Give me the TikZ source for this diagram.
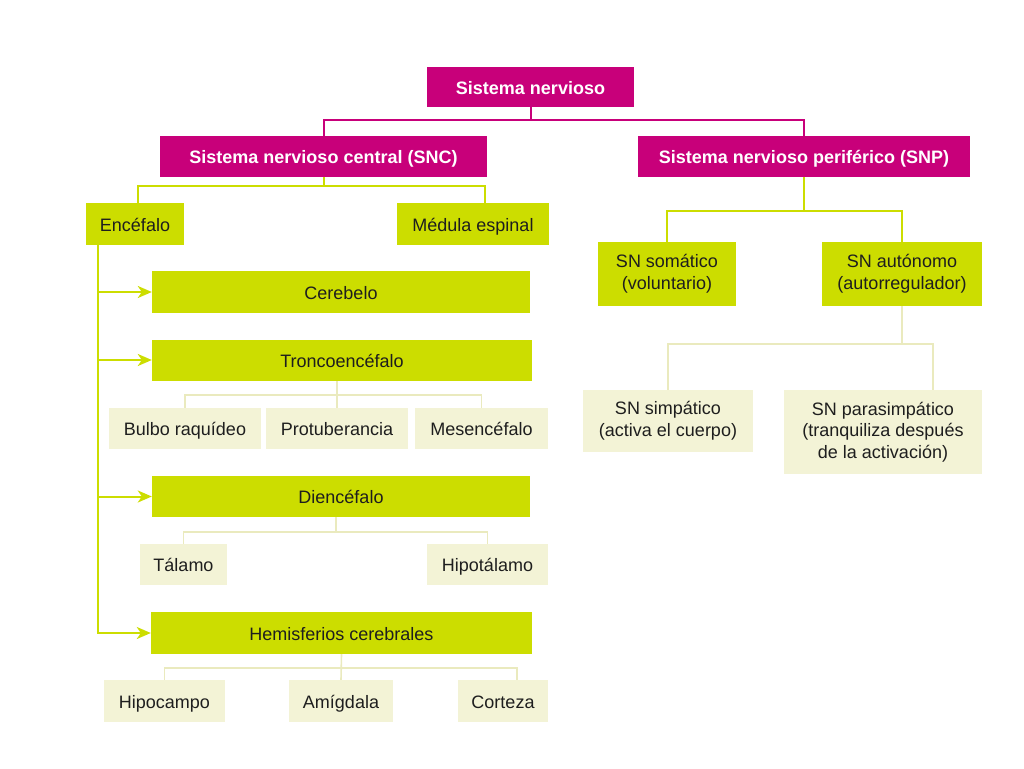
\documentclass[tikz,border=0pt]{standalone}
\usepackage{fontspec}
\setmainfont{Liberation Sans}
\usetikzlibrary{arrows.meta}

\definecolor{magenta}{RGB}{200,0,122}
\definecolor{lime}{RGB}{204,221,0}
\definecolor{pale}{RGB}{243,243,214}
\definecolor{paleline}{RGB}{234,234,190}
\definecolor{ink}{RGB}{30,30,30}

\tikzset{
  oneline/.style={text height=16pt, text depth=2pt},
  magbox/.style={fill=magenta, text=white, font=\fontsize{18}{21}\selectfont\bfseries, inner sep=0pt, oneline},
  limebox/.style={fill=lime, text=ink, font=\fontsize{18}{21.7}\selectfont, inner sep=0pt, align=center},
  palebox/.style={fill=pale, text=ink, font=\fontsize{18}{21.7}\selectfont, inner sep=0pt, align=center},
  magline/.style={draw=magenta, line width=2pt},
  limeline/.style={draw=lime, line width=2pt},
  pline/.style={draw=paleline, line width=1.6pt},
  limearrow/.style={limeline, -{Stealth[length=14pt, width=12pt, inset=4pt]}}
}

\begin{document}
\begin{tikzpicture}[x=1pt, y=-1pt]
        \useasboundingbox (0,0) rectangle (1024,768);
        % top level
        \node[magbox, minimum width=207, minimum height=40] (sn) at (530.5,87) {Sistema nervioso};
        \node[magbox, minimum width=327, minimum height=41] (snc) at (323.5,156.5) {Sistema nervioso central (SNC)};
        \node[magbox, minimum width=332, minimum height=41] (snp) at (804,156.5) {Sistema nervioso periférico (SNP)};
        \draw[magline] (sn.south) -- ++(0,13) -| (snc.north);
        \draw[magline] (sn.south) -- ++(0,13) -| (snp.north);
        % central
        \node[limebox, oneline, minimum width=98, minimum height=42] (enc) at (135,224) {Encéfalo};
        \node[limebox, oneline, minimum width=152, minimum height=42] (med) at (473,224) {Médula espinal};
        \draw[limeline] (snc.south) -- ++(0,9) -| ([xshift=3]enc.north);
        \draw[limeline] (snc.south) -- ++(0,9) -| ([xshift=12]med.north);
        \node[limebox, oneline, minimum width=378, minimum height=42] (cereb) at (341,292) {Cerebelo};
        \node[limebox, oneline, minimum width=380, minimum height=41] (tronco) at (342,360) {Troncoencéfalo};
        \node[limebox, oneline, minimum width=378, minimum height=41] (dien) at (341,496.5) {Diencéfalo};
        \node[limebox, oneline, minimum width=381, minimum height=42] (hemis) at (341.5,633) {Hemisferios cerebrales};
        \draw[limearrow] ([xshift=12]enc.south west) |- (cereb.west);
        \draw[limearrow] ([xshift=12]enc.south west) |- (tronco.west);
        \draw[limearrow] ([xshift=12]enc.south west) |- (dien.west);
        \draw[limearrow] ([xshift=12]enc.south west) |- (hemis.west);
        % troncoencefalo
        \node[palebox, oneline, minimum width=152, minimum height=41] (bulbo) at (185,428.5) {Bulbo raquídeo};
        \node[palebox, oneline, minimum width=142, minimum height=41] (prot) at (337,428.5) {Protuberancia};
        \node[palebox, oneline, minimum width=133, minimum height=41] (meso) at (481.5,428.5) {Mesencéfalo};
        \draw[pline] (prot.north) -- (prot.north |- tronco.south);
        \draw[pline] (bulbo.north) -- ++(0,-13) -| (meso.north);
        % diencefalo
        \node[palebox, oneline, minimum width=87, minimum height=41] (tal) at (183.5,564.5) {Tálamo};
        \node[palebox, oneline, minimum width=121, minimum height=41] (hipot) at (487.5,564.5) {Hipotálamo};
        \draw[pline] ([xshift=-5]dien.south) -- ++(0,15);
        \draw[pline] (tal.north) -- ++(0,-12) -| (hipot.north);
        % hemisferios
        \node[palebox, oneline, minimum width=121, minimum height=42] (hipoc) at (164.5,701) {Hipocampo};
        \node[palebox, oneline, minimum width=104, minimum height=42] (amig) at (341,701) {Amígdala};
        \node[palebox, oneline, minimum width=90, minimum height=42] (cort) at (503,701) {Corteza};
        \draw[pline] (hemis.south) -- (amig.north);
        \draw[pline] (hipoc.north) -- ++(0,-12) -| ([xshift=14]cort.north);
        % periferico
        \node[limebox, minimum width=138, minimum height=64] (som) at (667,274) {SN somático\\(voluntario)};
        \node[limebox, minimum width=160, minimum height=64] (aut) at (902,274) {SN autónomo\\(autorregulador)};
        \draw[limeline] (snp.south) -- ++(0,34) -| (som.north);
        \draw[limeline] (snp.south) -- ++(0,34) -| (aut.north);
        \node[palebox, minimum width=170, minimum height=62] (simp) at (668,421) {SN simpático\\(activa el cuerpo)};
        \node[palebox, minimum width=198, minimum height=84] (para) at (883,432) {SN parasimpático\\(tranquiliza después\\de la activación)};
        \draw[pline] (aut.south) -- ++(0,38) -| (simp.north);
        \draw[pline] (aut.south) -- ++(0,38) -| ([xshift=50]para.north);
      \end{tikzpicture}
\end{document}
